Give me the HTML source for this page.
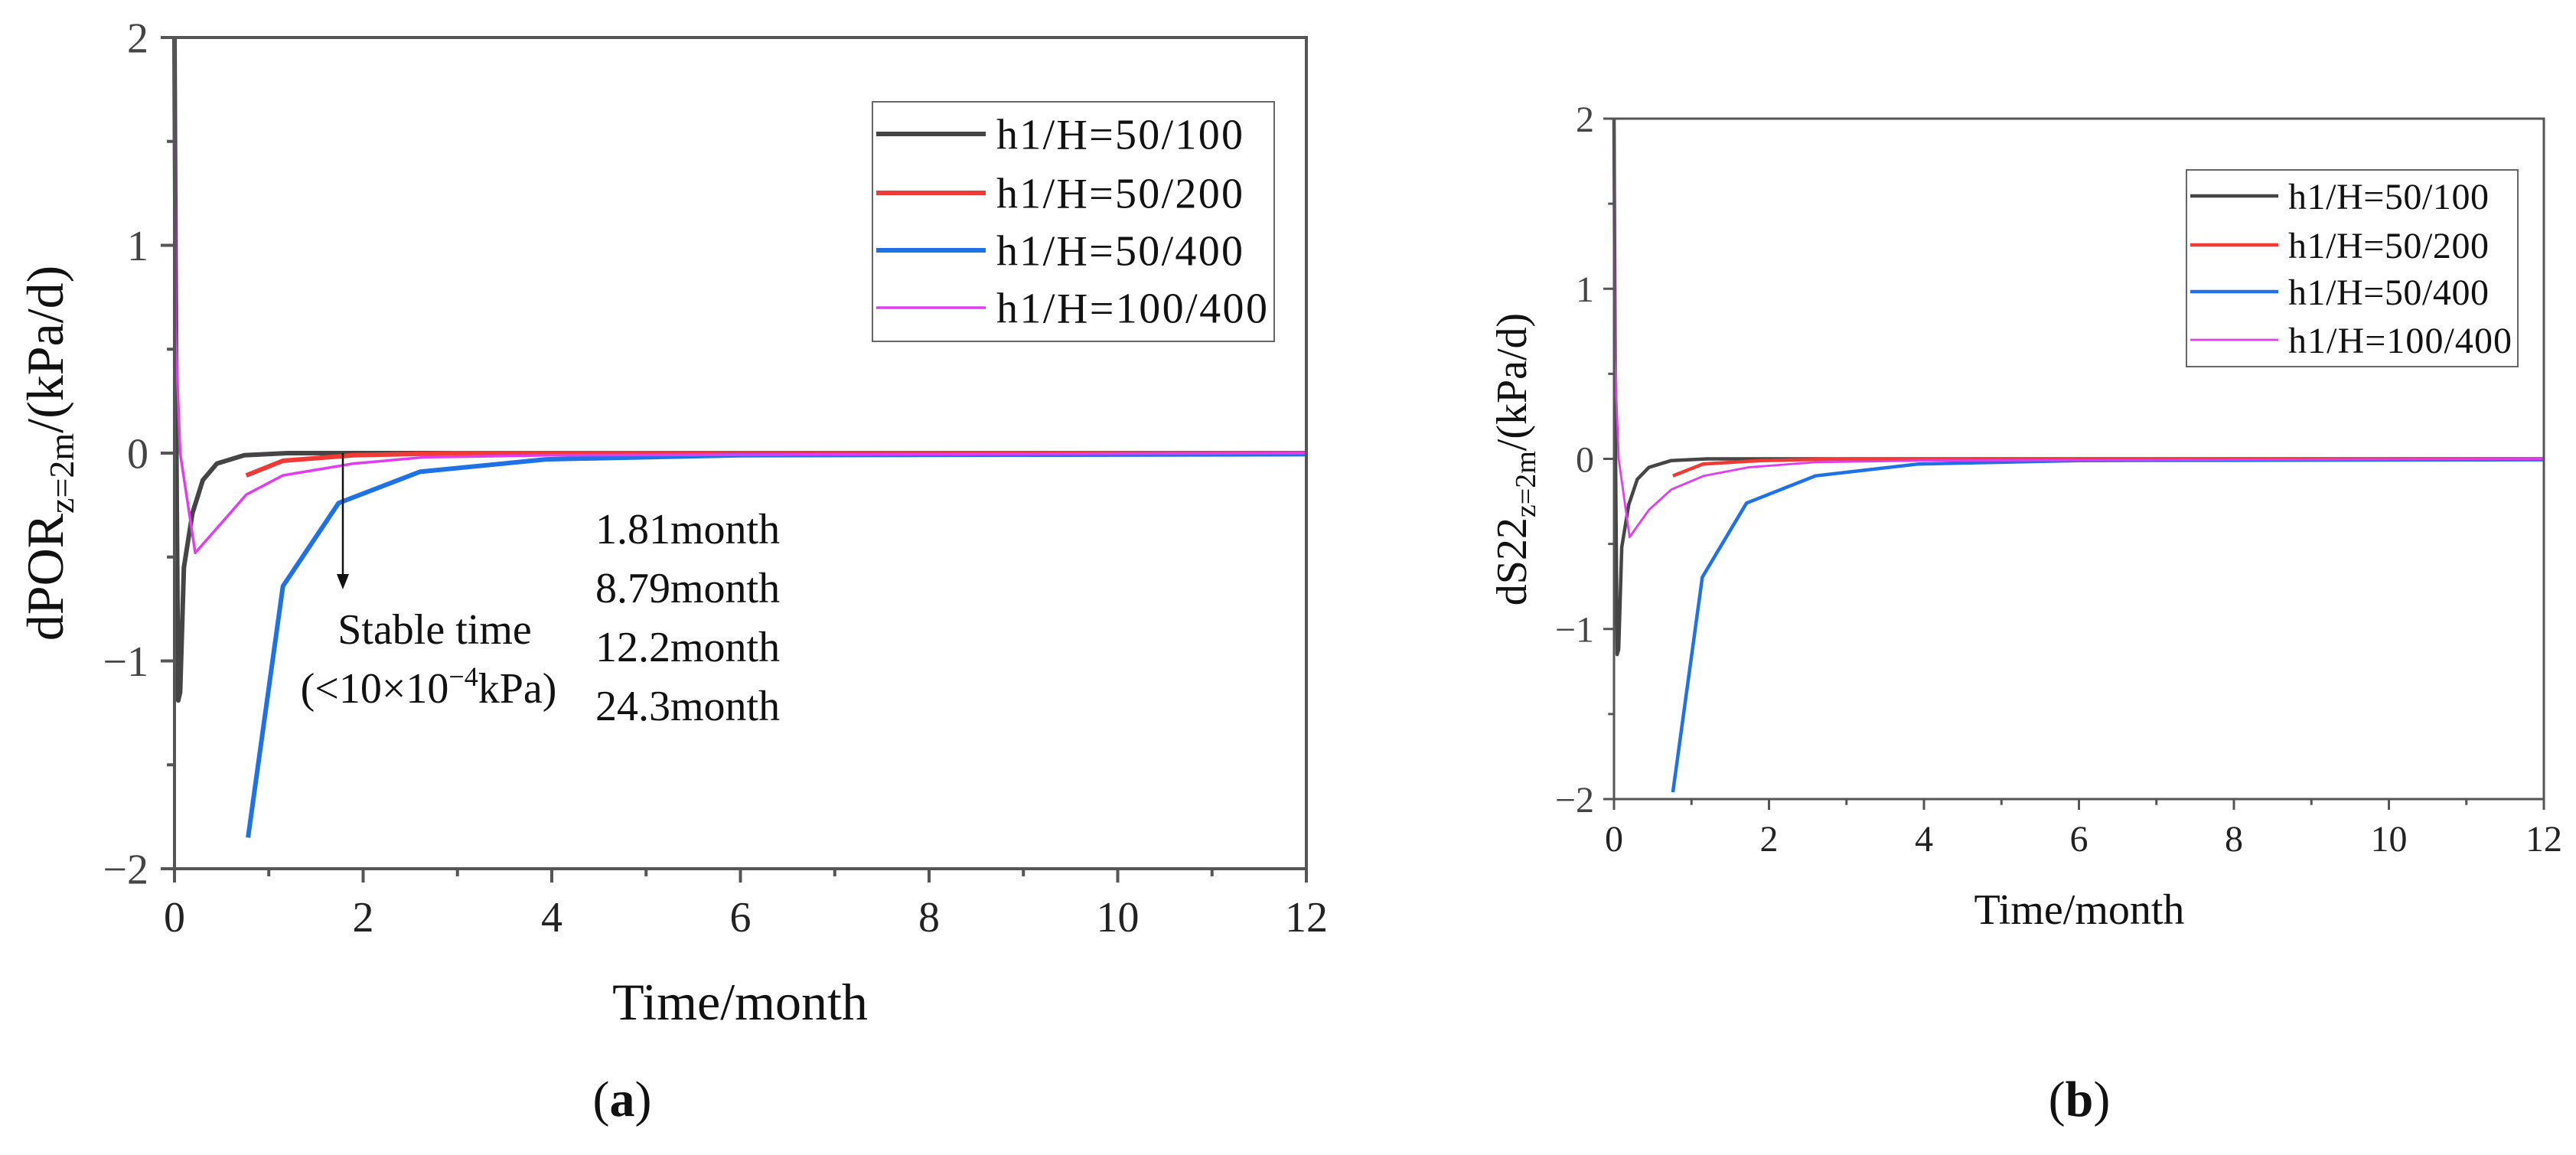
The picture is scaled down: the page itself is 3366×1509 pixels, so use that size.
<!DOCTYPE html>
<html><head><meta charset="utf-8"><style>
body{margin:0;background:#fff}
svg{display:block;font-family:"Liberation Serif",serif}
</style></head><body>
<svg id="s" width="3366" height="1509" viewBox="0 0 3366 1509">
</svg>
<script>
// ---------- data ----------
const xTicks=[0,2,4,6,8,10,12];
const yTicks=[-2,-1,0,1,2];
const seriesNames=["h1/H=50/100","h1/H=50/200","h1/H=50/400","h1/H=100/400"];
const aBlackX=[0,0.02,0.04,0.06,0.1,0.19,0.3,0.45,0.74,1.2,12];
const aBlackY=[2,0,-1.19,-1.15,-0.55,-0.29,-0.13,-0.05,-0.01,0,0];
const aRedX=[0.76,1.15,1.9,3,12];
const aRedY=[-0.107,-0.037,-0.01,0,0];
const aBlueX=[0.78,1.15,1.74,2.6,3.94,6,12];
const aBlueY=[-1.85,-0.64,-0.24,-0.09,-0.03,-0.01,-0.005];
const aMagX=[0,0.01,0.06,0.22,0.53,0.76,1.15,1.9,2.65,4,12];
const aMagY=[2,0.6,0,-0.48,-0.32,-0.2,-0.107,-0.05,-0.02,-0.01,0];
const bBlackX=[0,0.02,0.04,0.06,0.1,0.19,0.3,0.45,0.74,1.2,12];
const bBlackY=[2,0,-1.15,-1.12,-0.52,-0.27,-0.12,-0.05,-0.01,0,0];
const bRedX=[0.76,1.15,1.9,3,12];
const bRedY=[-0.1,-0.03,-0.01,0,0];
const bBlueX=[0.76,1.14,1.71,2.6,3.93,6,12];
const bBlueY=[-1.96,-0.695,-0.26,-0.1,-0.03,-0.01,-0.005];
const bMagX=[0,0.01,0.06,0.2,0.45,0.74,1.16,1.73,2.6,4,12];
const bMagY=[2,0.6,0,-0.46,-0.3,-0.18,-0.1,-0.05,-0.02,-0.01,0];

const NS="http://www.w3.org/2000/svg";
const svg=document.getElementById('s');
function mk(tag,attrs,parent,text){const e=document.createElementNS(NS,tag);for(const k in attrs)e.setAttribute(k,attrs[k]);if(text!==undefined)e.textContent=text;(parent||svg).appendChild(e);return e;}
const colors=["#454545","#f03a36","#1f72e6","#e23cf0"];

function panel(P){
  const g=mk('g',{});
  
  
  const sx=v=>P.x0+(v-0)/12*(P.x1-P.x0);
  const sy=v=>P.y0+(2-v)/4*(P.y1-P.y0);
  // series
  P.series.forEach((s,i)=>{
    let d='';s[0].forEach((x,j)=>{d+=(j?'L':'M')+sx(x).toFixed(1)+' '+sy(s[1][j]).toFixed(1);});
    const p=mk('path',{d:d,fill:'none',stroke:colors[i],'stroke-width':i==3?P.lwT:P.lw,'stroke-linejoin':'round'},g);
    
    
  });
  // frame
  const fr=mk('rect',{x:P.x0,y:P.y0,width:P.x1-P.x0,height:P.y1-P.y0,fill:'none',stroke:'#555','stroke-width':P.aw},g);
  
  
  // x ticks
  for(let v=0;v<=12;v+=1){const maj=v%2==0;
    mk('line',{x1:sx(v),x2:sx(v),y1:P.y1,y2:P.y1+(maj?P.tk:P.tk*0.55),stroke:'#555','stroke-width':P.aw},g);}
  xTicks.forEach(v=>{const t=mk('text',{x:sx(v),y:P.y1+P.xlOff,'font-size':P.fs,'text-anchor':'middle',fill:'#222'},g,String(v));
    
    });
  for(let v=-2;v<=2;v+=0.5){const maj=Number.isInteger(v);
    mk('line',{x1:P.x0,x2:P.x0-(maj?P.tk:P.tk*0.55),y1:sy(v),y2:sy(v),stroke:'#555','stroke-width':P.aw},g);}
  yTicks.forEach(v=>{const t=mk('text',{x:P.x0-P.ylOff,y:sy(v)+P.fs*0.35,'font-size':P.fs,'text-anchor':'end',fill:'#444'},g,v<0?'\u2212'+(-v):String(v));
    
    });
  // legend
  const L=P.leg;
  const lb=mk('rect',{x:L.x,y:L.y,width:L.w,height:L.h,fill:'#fff',stroke:'#666','stroke-width':2},g);
  
  
  seriesNames.forEach((n,i)=>{const yy=L.rows[i];
    mk('line',{x1:L.lx1,x2:L.lx2,y1:yy,y2:yy,stroke:colors[i],'stroke-width':i==3?P.lwT:P.lw},g);
    const t=mk('text',{x:L.tx,y:yy+L.fs*0.35,'font-size':L.fs,fill:'#111',textLength:L.tw[i],lengthAdjust:'spacing'},g,n);
    
    });
  return {g,sx,sy};
}

const A=panel({id:'a',x0:228,x1:1707,y0:49,y1:1135,lw:6,lwT:3.5,aw:4,tk:18,fs:56,xlOff:82,ylOff:34,
  series:[[aBlackX,aBlackY],[aRedX,aRedY],[aBlueX,aBlueY],[aMagX,aMagY]],
  leg:{x:1140,y:133,w:525,h:313,rows:[175,252,327,402],lx1:1145,lx2:1288,tx:1302,fs:56,tw:[322,322,322,354]}});
const B=panel({id:'b',x0:2109,x1:3324,y0:155,y1:1044,lw:4.5,lwT:2.8,aw:3,tk:14,fs:48,xlOff:68,ylOff:26,
  series:[[bBlackX,bBlackY],[bRedX,bRedY],[bBlueX,bBlueY],[bMagX,bMagY]],
  leg:{x:2857,y:222,w:433,h:257,rows:[256,320,381,444],lx1:2862,lx2:2977,tx:2990,fs:48,tw:[262,262,262,292]}});

// axis titles
function txt(attrs,name,html){const t=mk('text',attrs);t.innerHTML=html;return t;}
txt({x:967,y:1332,'font-size':68,'text-anchor':'middle',fill:'#111'},'a-x-axis-title','Time/month');
txt({x:2717,y:1207,'font-size':56,'text-anchor':'middle',fill:'#111'},'b-x-axis-title','Time/month');
txt({x:0,y:0,'font-size':68,'text-anchor':'middle',fill:'#111',transform:'translate(82,592) rotate(-90)'},'a-y-axis-title',
 'dPOR<tspan font-size="46" dy="14">z=2m</tspan><tspan dy="-14">/(kPa/d)</tspan>');
txt({x:0,y:0,'font-size':56,'text-anchor':'middle',fill:'#111',transform:'translate(1994,600) rotate(-90)'},'b-y-axis-title',
 'dS22<tspan font-size="38" dy="12">z=2m</tspan><tspan dy="-12">/(kPa/d)</tspan>');
txt({x:813,y:1458,'font-size':66,'text-anchor':'middle',fill:'#111'},'a-panel-label','(<tspan font-weight="bold">a</tspan>)');
txt({x:2717,y:1458,'font-size':66,'text-anchor':'middle',fill:'#111'},'b-panel-label','(<tspan font-weight="bold">b</tspan>)');
// annotation
const ar=mk('line',{x1:448,y1:592,x2:448,y2:752,stroke:'#111','stroke-width':2.5});


const ah=mk('path',{d:'M440 750 L456 750 L448 770 Z',fill:'#111'});


txt({x:568,y:841,'font-size':56,'text-anchor':'middle',fill:'#111'},'stable-time-label','Stable time');
txt({x:560,y:918,'font-size':56,'text-anchor':'middle',fill:'#111'},'stable-time-threshold','(&lt;10×10<tspan font-size="36" dy="-22">−4</tspan><tspan dy="22">kPa)</tspan>');
['1.81month','8.79month','12.2month','24.3month'].forEach((s,i)=>{
  txt({x:778,y:710+i*77,'font-size':56,fill:'#111'},'stable-time-value',s);});
</script>
</body></html>
